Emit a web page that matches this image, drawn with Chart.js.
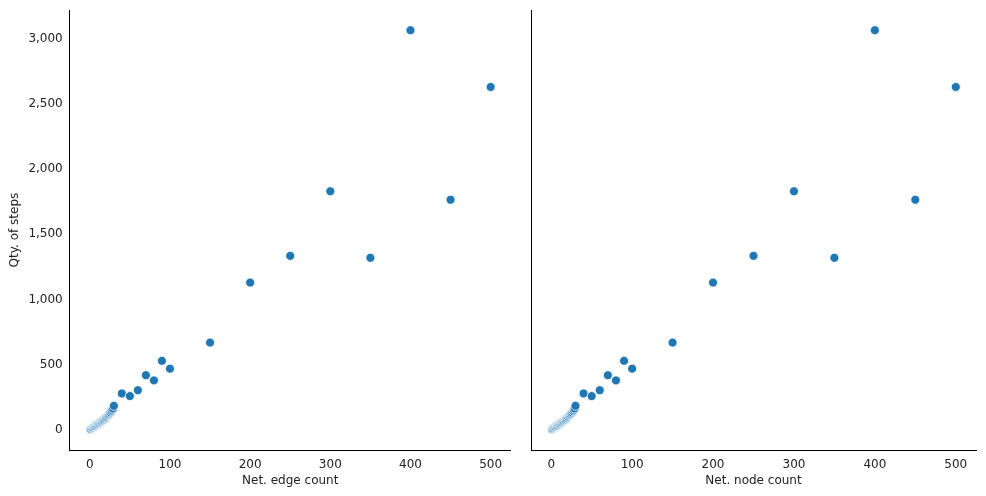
<!DOCTYPE html>
<html>
<head>
<script src="https://cdn.jsdelivr.net/npm/chart.js@4"></script>
<style>
body { margin: 0; background: #fff; }
.wrap { position: absolute; top: 0; height: 496px; }
</style>
</head>
<body>
<div class="wrap" style="left:0;width:516px"><canvas id="left"></canvas></div>
<div class="wrap" style="left:516px;width:470px"><canvas id="right"></canvas></div>
<script>
// net size (edges / nodes) and step counts
var netSize = [1, 2, 3, 4, 5, 6, 7, 8, 9, 10, 11, 12, 13, 14, 15, 16, 17, 18, 19, 20, 21, 22, 23, 24, 25, 26, 27, 28, 29,
               30, 40, 50, 60, 70, 80, 90, 100, 150, 200, 250, 300, 350, 400, 450, 500];
var steps = [5, 10, 14, 18, 22, 27, 30, 34, 40, 44, 48, 52, 58, 62, 66, 72, 76, 82, 88, 95, 100, 108, 114, 120, 128, 135, 145, 155, 165,
             185, 280, 260, 305, 420, 380, 530, 470, 670, 1130, 1335, 1830, 1320, 3065, 1765, 2630];
var xTicks = [0, 100, 200, 300, 400, 500];
var yTicks = [0, 500, 1000, 1500, 2000, 2500, 3000];

Chart.defaults.font.family = "DejaVu Sans";
Chart.defaults.font.size = 12;
Chart.defaults.color = "#222";

var pts = netSize.map(function (x, i) { return {x: x, y: steps[i]}; });

function makeChart(id, xLabel, showY) {
    var ctx = document.getElementById(id).getContext("2d");
    return new Chart(ctx, {
        type: "scatter",
        data: {
            datasets: [{
                data: pts,
                backgroundColor: "#1f77b4",
                borderColor: "#ffffff",
                borderWidth: 0.8,
                pointRadius: 4.5
            }]
        },
        options: {
            responsive: true,
            maintainAspectRatio: false,
            animation: false,
            layout: {padding: {top: 10, right: showY ? 4 : 10, left: showY ? 4 : 0, bottom: 4}},
            plugins: {legend: {display: false}, tooltip: {enabled: false}},
            scales: {
                x: {
                    min: -25, max: 525,
                    afterBuildTicks: function (ax) { ax.ticks = xTicks.map(function (v) { return {value: v}; }); },
                    grid: {display: false, drawTicks: true, tickLength: 5, tickColor: "#000"},
                    border: {color: "#000"},
                    ticks: {padding: 2},
                    title: {display: true, text: xLabel, padding: {top: 0}}
                },
                y: {
                    min: -155, max: 3220,
                    afterBuildTicks: function (ax) { ax.ticks = yTicks.map(function (v) { return {value: v}; }); },
                    grid: {display: false, drawTicks: true, tickLength: 5, tickColor: "#000"},
                    border: {color: "#000"},
                    ticks: {display: showY, padding: 2},
                    afterFit: showY ? undefined : function (ax) { ax.width = 15; },
                    title: {display: showY, text: "Qty. of steps"}
                }
            }
        }
    });
}

makeChart("left", "Net. edge count", true);
makeChart("right", "Net. node count", false);
</script>
</body>
</html>
